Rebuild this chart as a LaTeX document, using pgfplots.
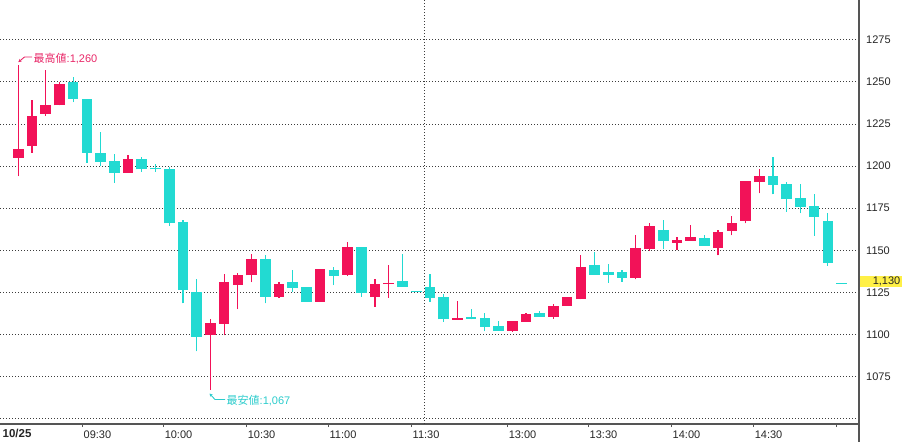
\documentclass[border=0pt]{standalone}
\usepackage{pgfplots}
\pgfplotsset{compat=1.18}
\usepackage{pgfplotstable}
\usepackage{fontspec}
\setmainfont{Liberation Sans}
\newfontfamily\jp{Noto Sans CJK JP}
\usetikzlibrary{arrows.meta}
\definecolor{upC}{RGB}{242,18,88}
\definecolor{dnC}{RGB}{34,218,210}
\definecolor{upT}{RGB}{232,40,104}
\definecolor{dnT}{RGB}{44,204,204}
\definecolor{gridC}{RGB}{60,60,60}
\definecolor{axisC}{RGB}{85,85,85}
\definecolor{yelC}{RGB}{255,240,70}

\pgfplotstableread{
i o h l c
0 1205 1260 1194 1210
1 1212 1239 1208 1230
2 1231 1257 1230 1236
3 1236 1250 1236 1249
8 1196 1206.5 1196 1204
14 1099.5 1109 1067 1106.6
15 1106.4 1136 1099.5 1131
16 1129.3 1136.6 1115 1135.3
17 1135 1147.7 1131 1144.6
19 1122.4 1131.3 1121.8 1130
22 1119.4 1138.8 1119.4 1138.8
24 1135.3 1154.7 1134.9 1152.1
26 1122.4 1132.7 1116.4 1130
27 1129.8 1141.2 1121.8 1130
32 1108.7 1119.8 1108.7 1109.7
36 1102.2 1108 1101.6 1108
37 1107.5 1112.5 1107.5 1112
39 1110.5 1118 1109.3 1116.9
40 1116.9 1122 1116.9 1122
41 1121 1147 1121 1139.8
45 1133.7 1159 1132.7 1151.1
46 1150.7 1166 1149.7 1164.4
48 1154.5 1157.7 1150 1156.1
49 1155.6 1165 1155.6 1157.7
51 1151.5 1162 1147 1161
52 1161.6 1170.3 1158.8 1166
53 1167.5 1191.1 1166 1191.1
54 1190.5 1198.2 1183.8 1194
}\upT

\pgfplotstableread{
i o h l c
4 1250 1253 1238 1240
5 1240 1240 1202 1208
6 1208 1220 1200 1202.6
7 1203 1207 1190 1196
9 1204 1205.5 1196.6 1198
10 1198.3 1201 1196.5 1198
11 1198 1199.6 1164.5 1166
12 1167 1168 1118.5 1126.4
13 1125 1133 1090 1098.6
18 1144.6 1147 1118.5 1122.4
20 1131.3 1138.2 1125.4 1127.7
21 1128 1128 1119.4 1119.4
23 1138.2 1140.2 1129.3 1134.9
25 1152 1152 1122.4 1124.8
28 1131.9 1147.7 1128.3 1128.3
29 1125.2 1125.2 1125.2 1125.2
30 1128 1136 1119.4 1121.8
31 1122 1124 1107.5 1109
33 1109.7 1115 1109 1109.4
34 1109.5 1112.5 1102 1104.6
35 1105 1108 1102.2 1102.2
38 1112.9 1114 1110.5 1110.5
42 1141.2 1149 1135.3 1135.3
43 1137.2 1141.8 1130.7 1135.3
44 1137 1138.2 1131.3 1133.7
47 1162 1168 1150.7 1155.6
50 1157.4 1159 1152.7 1152.7
55 1194 1205.2 1183.2 1188.9
56 1189.3 1190.7 1172.9 1180.4
57 1180.8 1189.3 1172 1175.8
58 1176.2 1183.4 1158.6 1169.9
59 1167.3 1172 1140.8 1142.6
60 1130 1130 1130 1130
}\dnT

\begin{document}
\begin{tikzpicture}
\useasboundingbox (0,0) rectangle (905bp,442bp);
\begin{axis}[
  at={(0bp,18bp)}, anchor=south west,
  width=859bp, height=424bp, scale only axis,
  xmin=-1.334, xmax=61.27, ymin=1046.8, ymax=1298.6,
  axis x line*=bottom, axis y line*=right,
  axis line style={-, draw=axisC, line width=1.2bp},
  scaled y ticks=false,
  /pgf/number format/assume math mode=true,
  /pgf/number format/1000 sep={},
  tick label style={font=\fontsize{11bp}{13bp}\selectfont, text=black!85},
  ytick={1075,1100,...,1275},
  extra y ticks={1050}, extra y tick labels={},
  extra y tick style={grid=major, ytick style={draw=none}},
  ymajorgrids=true,
  grid style={draw=gridC, line width=0.85bp, dash pattern=on 0.85bp off 2.15bp},
  ytick style={draw=none},
  yticklabel style={anchor=west, inner sep=0pt, xshift=7bp},
  xtick={4.64,10.55,16.6,22.57,28.62,35.62,41.52,47.57,53.55,59.6},
  xticklabels={09:30,10:00,10:30,11:00,11:30,13:00,13:30,14:00,14:30,{}},
  xtick align=outside,
  major tick length=3bp,
  xtick style={draw=axisC, line width=0.8bp},
  xticklabel style={anchor=base west, inner sep=0pt, xshift=1.5bp, yshift=-11bp},
  clip=true,
  candle/.style={only marks, mark=*, mark size=0pt,
    mark options={draw=none, fill=none}, forget plot},
]
% wicks
\addplot[candle, color=upC,
  error bars/.cd, y dir=plus, y explicit, error mark=none,
  error bar style={line width=1.2bp, color=upC}]
  table[x=i, y=l, y error plus expr=\thisrow{h}-\thisrow{l}] {\upT};
\addplot[candle, color=dnC,
  error bars/.cd, y dir=plus, y explicit, error mark=none,
  error bar style={line width=1.2bp, color=dnC}]
  table[x=i, y=l, y error plus expr=\thisrow{h}-\thisrow{l}] {\dnT};
% bodies
\addplot[candle, color=upC,
  error bars/.cd, y dir=plus, y explicit, error mark=none,
  error bar style={line width=10.6bp, color=upC, line cap=butt}]
  table[x=i, y=o, y error plus expr={max(\thisrow{c}-\thisrow{o},0.7)}] {\upT};
\addplot[candle, color=dnC,
  error bars/.cd, y dir=plus, y explicit, error mark=none,
  error bar style={line width=10.6bp, color=dnC, line cap=butt}]
  table[x=i, y=c, y error plus expr={max(\thisrow{o}-\thisrow{c},0.7)}] {\dnT};
\draw[gridC, line width=0.85bp, dash pattern=on 0.85bp off 2.15bp]
  (axis cs:29.57,1046.8) -- (axis cs:29.57,1298.6);
\end{axis}
% right axis line continues to the bottom edge
\draw[axisC, line width=1.2bp] (859bp,0bp) -- (859bp,442bp);
% date label
\node[anchor=base west, inner sep=0pt, font=\fontsize{11.5bp}{13bp}\selectfont\bfseries, text=black!85]
  at (2.5bp,4.5bp) {10/25};
% last price tag
\fill[yelC] (860bp,155bp) rectangle (902bp,166bp);
\node[anchor=east, inner sep=0pt, font=\fontsize{11bp}{13bp}\selectfont, text=black!85]
  at (900.5bp,160.3bp) {1,130};
% high annotation
\draw[upT, line width=0.9bp, -{Stealth[length=3.2bp,width=3.2bp]}]
  (32bp,385bp) -- (24.5bp,385bp) -- (18.3bp,379.8bp);
\node[anchor=west, inner sep=0pt, text=upT, font=\fontsize{11bp}{13bp}\selectfont]
  at (33.5bp,383.5bp) {{\jp 最高値}:1,260};
% low annotation
\draw[dnT, line width=0.9bp, -{Stealth[length=3.2bp,width=3.2bp]}]
  (225bp,42.5bp) -- (215bp,42.5bp) -- (209.5bp,48.5bp);
\node[anchor=west, inner sep=0pt, text=dnT, font=\fontsize{11bp}{13bp}\selectfont]
  at (226.5bp,41bp) {{\jp 最安値}:1,067};
\end{tikzpicture}
\end{document}
